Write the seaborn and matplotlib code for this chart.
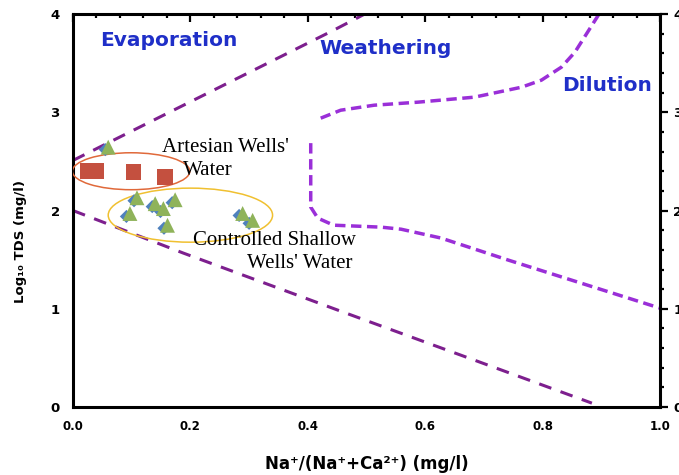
import numpy as np
import pandas as pd
import seaborn as sns
import matplotlib
matplotlib.use("Agg")
import matplotlib.pyplot as plt
from matplotlib.patches import Ellipse
from matplotlib.ticker import MultipleLocator

# ---------------- data ----------------
# Artesian wells (red squares)
art_x = [0.026, 0.039, 0.103, 0.157]
art_y = [2.40, 2.40, 2.39, 2.34]
# Controlled shallow wells (green triangles)
sh_x = [0.060, 0.109, 0.097, 0.140, 0.154, 0.174, 0.161, 0.289, 0.306]
sh_y = [2.645, 2.13, 1.97, 2.07, 2.02, 2.11, 1.85, 1.97, 1.90]
# blue diamonds lying behind the triangles
bd_x = [0.055, 0.104, 0.091, 0.135, 0.149, 0.169, 0.155, 0.283, 0.300]
bd_y = [2.62, 2.10, 1.94, 2.04, 1.99, 2.08, 1.82, 1.95, 1.87]

# Gibbs boundary curves
evap_x = [0.0, 0.444, 0.497]
evap_y = [2.51, 3.835, 4.0]
low_x = [0.0, 0.188, 0.451, 0.884]
low_y = [2.0, 1.567, 0.987, 0.04]
upr_x = [0.422, 0.456, 0.513, 0.588, 0.684, 0.764, 0.798, 0.832, 0.855, 0.896]
upr_y = [2.940, 3.021, 3.072, 3.103, 3.154, 3.255, 3.327, 3.459, 3.611, 3.998]
lwr_x = [0.405, 0.405, 0.417, 0.444, 0.525, 0.559, 0.627, 0.742, 1.0]
lwr_y = [2.686, 2.035, 1.923, 1.851, 1.831, 1.81, 1.72, 1.495, 1.007]

xticks = [0.0, 0.2, 0.4, 0.6, 0.8, 1.0]
xticklabels = ["0.0", "0.2", "0.4", "0.6", "0.8", "1.0"]
yticks = [0, 1, 2, 3, 4]
yticklabels = ["0", "1", "2", "3", "4"]

# ---------------- plot ----------------
sns.set_style("white")
plt.rcParams['font.family'] = ['DejaVu Sans']
plt.rcParams['text.color'] = 'black'
plt.rcParams['axes.labelcolor'] = 'black'

fig = plt.figure(figsize=(6.79, 4.75), dpi=100)
ax = fig.add_axes([0.1075, 0.143, 0.8645, 0.8275])

dark_purple = "#7d1f8e"
violet = "#9a2fd8"

l1, = ax.plot(evap_x, evap_y, color=dark_purple, lw=2.2)
l2, = ax.plot(low_x, low_y, color=dark_purple, lw=2.2)
l3, = ax.plot(upr_x, upr_y, color=violet, lw=2.5)
l4, = ax.plot(lwr_x, lwr_y, color=violet, lw=2.5)
for ln in (l1, l2):
    ln.set_linestyle((0, (4.2, 3.2)))
for ln in (l3, l4):
    ln.set_linestyle((0, (3.0, 1.6)))

ax.add_patch(Ellipse((0.099, 2.40), 0.20, 0.376, fill=False, edgecolor="#e0693a", lw=1.1, zorder=3))
ax.add_patch(Ellipse((0.20, 1.953), 0.280, 0.55, fill=False, edgecolor="#f0c030", lw=1.1, zorder=3))

sns.scatterplot(x=bd_x, y=bd_y, ax=ax, marker="D", s=45, color="#4f81bd", edgecolor="none", zorder=4)
sns.scatterplot(x=sh_x, y=sh_y, ax=ax, marker="^", s=115, color="#8fb35a", edgecolor="none", zorder=5)
sns.scatterplot(x=art_x, y=art_y, ax=ax, marker="s", s=130, color="#c4503f", edgecolor="none", zorder=6)

# region labels
blue = "#1f2fc8"
ax.text(0.164, 3.733, "Evaporation", color=blue, fontsize=14.5, fontweight="heavy", ha="center", va="center")
ax.text(0.532, 3.652, "Weathering", color=blue, fontsize=14.5, fontweight="heavy", ha="center", va="center")
ax.text(0.909, 3.276, "Dilution", color=blue, fontsize=14.5, fontweight="heavy", ha="center", va="center")

serif = dict(family="Liberation Serif", fontsize=15, color="black", ha="center", va="center", zorder=7)
ax.text(0.260, 2.645, "Artesian Wells'", **serif)
ax.text(0.229, 2.411, "Water", **serif)
ax.text(0.344, 1.699, "Controlled Shallow", **serif)
ax.text(0.386, 1.465, "Wells' Water", **serif)

ax.set_xlim(0, 1)
ax.set_ylim(0, 4)
ax.set_xticks(xticks)
ax.set_xticklabels(xticklabels, fontweight="bold", fontsize=8.5)
ax.set_yticks(yticks)
ax.set_yticklabels(yticklabels, fontweight="bold", fontsize=9.5)
ax.xaxis.set_minor_locator(MultipleLocator(0.04))
ax.yaxis.set_minor_locator(MultipleLocator(0.2))

for s in ax.spines.values():
    s.set_linewidth(2.2)
    s.set_color("black")

ax.tick_params(which="both", direction="out", width=1.6, colors="black")
ax.tick_params(which="major", length=6)
ax.tick_params(which="minor", length=3)
ax.tick_params(axis="y", which="both", right=True, labelright=True)
ax.tick_params(axis="x", which="both", top=True, labeltop=False)
# top ticks inward
for t in ax.xaxis.get_major_ticks() + ax.xaxis.get_minor_ticks():
    t.tick2line.set_marker(matplotlib.lines.TICKDOWN)

ax.set_xlabel("Na\u207a/(Na\u207a+Ca\u00b2\u207a) (mg/l)", fontweight="bold", fontsize=12, labelpad=16, color="black")
ax.set_ylabel("Log\u2081\u2080 TDS (mg/l)", fontweight="bold", fontsize=9.5, color="black")
ax.yaxis.set_label_coords(-0.078, 0.42)

fig.savefig("out.png", dpi=100)
